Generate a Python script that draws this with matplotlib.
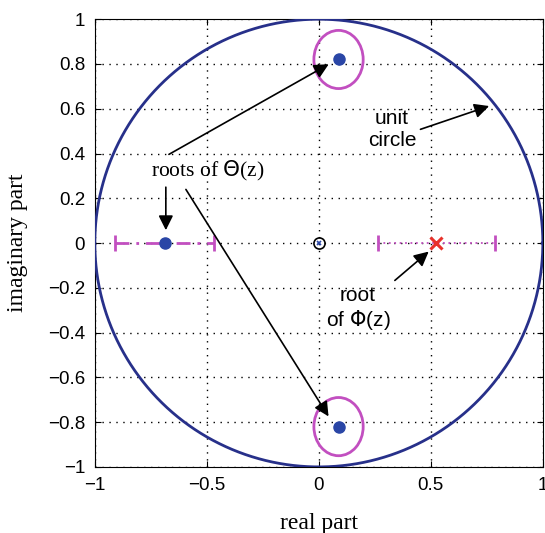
import numpy as np
import matplotlib.pyplot as plt
from matplotlib.patches import Ellipse

# roots of Theta(z): one real, one complex pair
theta_re = [-0.685, 0.088, 0.088]
theta_im = [0.0, 0.82, -0.82]
# root of Phi(z)
phi_re = [0.525]
phi_im = [0.0]
# uncertainty intervals / regions
theta_real_interval = [-0.91, -0.47]
phi_interval = [0.265, 0.785]
ellipse_w = 0.22
ellipse_h = 0.26

xticks = [-1, -0.5, 0, 0.5, 1]
yticks = [-1, -0.8, -0.6, -0.4, -0.2, 0, 0.2, 0.4, 0.6, 0.8, 1]

navy = '#27308a'
magenta = '#c24fc0'
blue = '#2a46a6'
red = '#e8312a'

fig = plt.figure(figsize=(5.45, 5.33), dpi=100)
ax = fig.add_axes([0.174, 0.124, 0.822, 0.840])

# unit circle
t = np.linspace(0, 2 * np.pi, 400)
ax.plot(np.cos(t), np.sin(t), color=navy, lw=2, zorder=3)

# intervals on real axis
ax.plot(theta_real_interval, [0, 0], color=magenta, lw=2, ls=(0, (5, 2.5, 1, 2.5)), zorder=3)
ax.plot(theta_real_interval, [0, 0], color=magenta, lw=0, marker='|', ms=12, mew=2, zorder=3)
ax.plot(phi_interval, [0, 0], color=magenta, lw=1.3, ls=(0, (1, 2)), zorder=3)
ax.plot(phi_interval, [0, 0], color=magenta, lw=0, marker='|', ms=12, mew=2, zorder=3)

# ellipses around complex roots
for x, y in zip(theta_re[1:], theta_im[1:]):
    ax.add_patch(Ellipse((x, y), ellipse_w, ellipse_h, fill=False, ec=magenta, lw=2, zorder=3))

ax.plot(theta_re, theta_im, 'o', color=blue, ms=8, zorder=4)
ax.plot(phi_re, phi_im, 'x', color=red, ms=9, mew=2.2, zorder=4)
ax.plot([0], [0], 'o', mfc='none', mec='black', ms=8, mew=1.2, zorder=4)
ax.plot([0], [0], 'x', color=blue, ms=3.5, mew=1.2, zorder=4)

# annotations
arrow = dict(arrowstyle='-|>', color='black', lw=1.2, mutation_scale=22)
ax.text(-0.495, 0.32, r'roots of $\Theta$(z)', fontsize=15.5, family='Liberation Serif',
        ha='center', va='center')
ax.annotate('', xy=(0.055, 0.805), xytext=(-0.68, 0.39), arrowprops=arrow)
ax.annotate('', xy=(-0.683, 0.045), xytext=(-0.683, 0.262), arrowprops=arrow)
ax.annotate('', xy=(0.05, -0.785), xytext=(-0.6, 0.25), arrowprops=arrow)

ax.text(0.435, 0.505, 'unit\ncircle', fontsize=15, family='Liberation Sans',
        ha='right', va='center', multialignment='center', linespacing=1.2)
ax.annotate('', xy=(0.772, 0.616), xytext=(0.442, 0.504), arrowprops=arrow)

ax.text(0.175, -0.295, 'root\nof $\\Phi$(z)', fontsize=15, family='Liberation Sans',
        ha='center', va='center', linespacing=1.2)
ax.annotate('', xy=(0.5, -0.03), xytext=(0.33, -0.175), arrowprops=arrow)

ax.set_xlim(-1, 1)
ax.set_ylim(-1, 1)
ax.set_xticks(xticks)
ax.set_yticks(yticks)
ax.set_xticklabels(['\u22121', '\u22120.5', '0', '0.5', '1'])
ax.set_yticklabels([('\u2212' + f'{abs(v):g}') if v < 0 else f'{v:g}' for v in yticks])
ax.tick_params(direction='in', length=4, labelsize=13.5, top=True, right=True, pad=7)
for lab in ax.get_xticklabels() + ax.get_yticklabels():
    lab.set_family('Liberation Sans')
ax.grid(True, color='black', ls=(0, (1, 4)), lw=1)
ax.set_xlabel('real part', fontsize=17, family='Liberation Serif', labelpad=14)
ax.set_ylabel('imaginary part', fontsize=17, family='Liberation Serif', labelpad=14)

fig.savefig('out.png', dpi=100)
